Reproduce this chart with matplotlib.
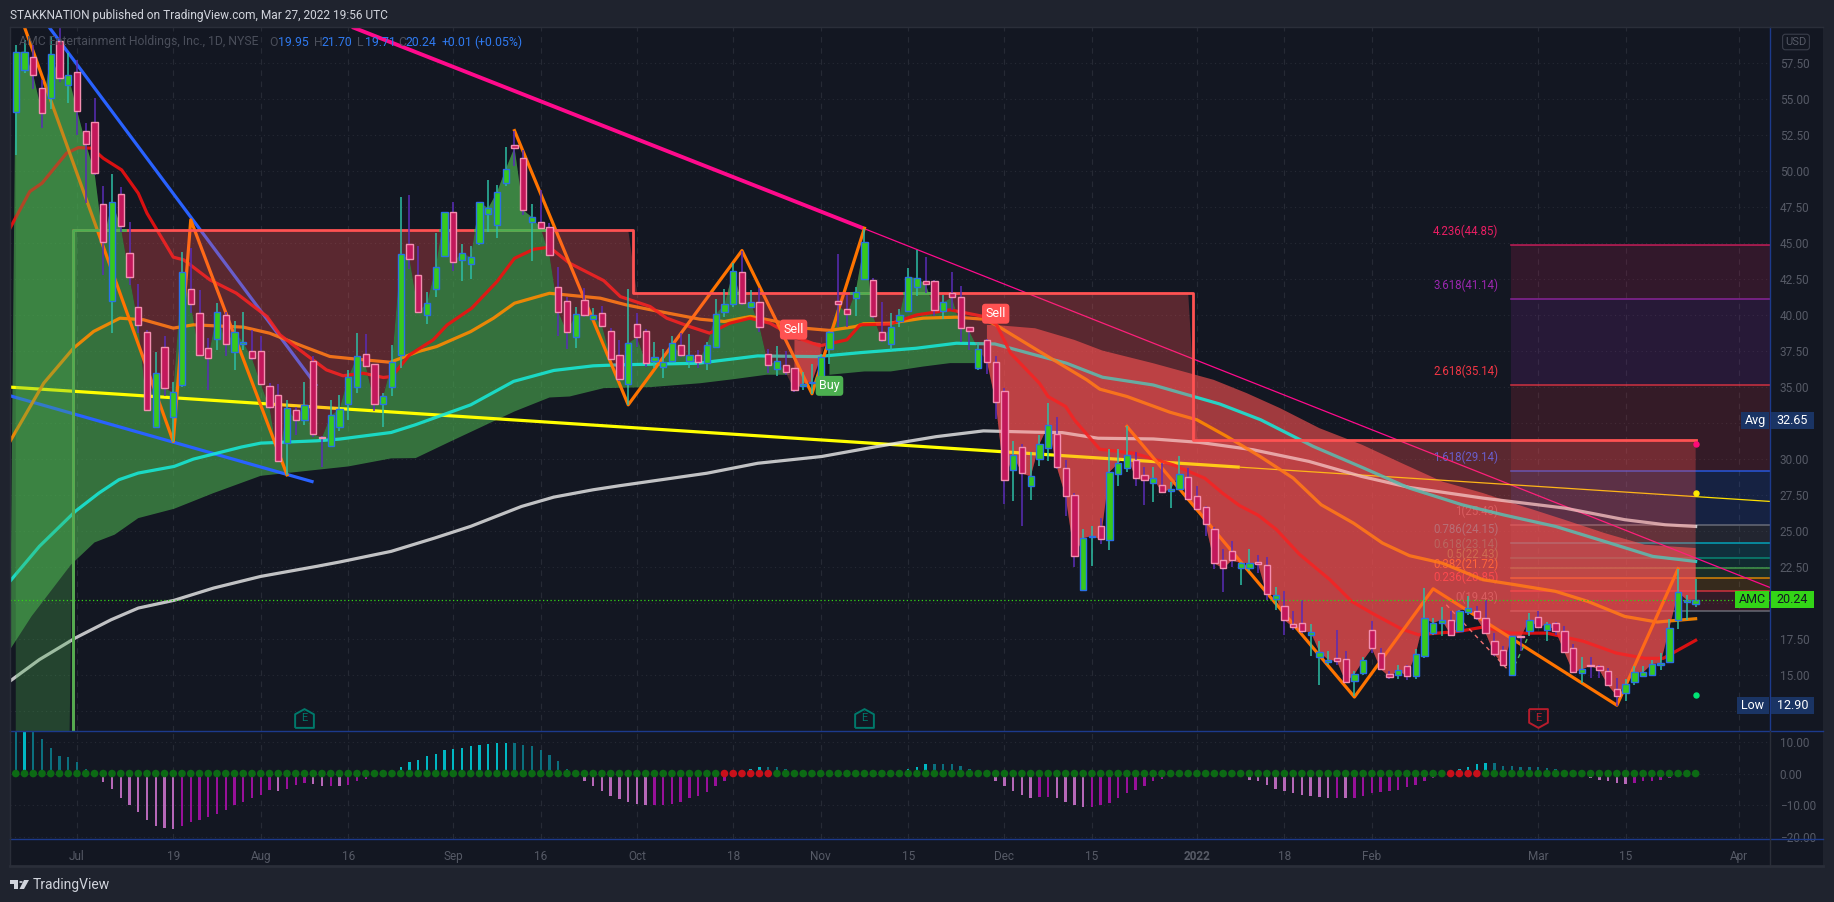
import numpy as np
import matplotlib
matplotlib.use('Agg')
import matplotlib.pyplot as plt
from matplotlib.lines import Line2D
from matplotlib.patches import Rectangle, Polygon, Circle

plt.rcParams['font.family'] = ['Roboto', 'DejaVu Sans']

# daily candles, first bar sits 7 sessions before Jul 1 2021
first_bar = -7
open_ = [54.12,57.04,57.96,55.76,55.07,59.03,55.97,56.87,
    52.78,53.45,47.71,40.97,48.40,44.30,40.55,38.82,32.22,37.82,32.91,35.16,41.80,40.14,37.75,38.33,40.00,37.43,37.98,37.54,37.54,35.11,34.42,31.11,33.38,32.71,36.85,31.57,30.90,32.22,33.82,35.04,
    37.29,36.59,33.86,35.00,37.22,44.92,42.77,39.99,41.80,44.14,47.15,43.86,43.54,44.99,47.01,46.27,49.16,51.80,50.90,46.45,46.45,46.11,41.94,40.97,38.47,41.04,39.76,40.13,38.88,37.22,35.20,39.37,38.88,36.85,36.38,36.80,37.91,36.85,
    37.22,36.67,37.78,40.21,40.79,42.98,40.60,40.90,37.29,36.25,36.53,36.32,35.09,35.30,35.65,37.64,40.97,40.42,41.18,42.50,42.43,38.82,37.99,39.61,40.32,41.97,42.36,42.36,40.32,41.53,41.25,39.17,36.32,38.26,36.73,
    34.75,29.21,30.81,28.10,30.00,30.76,31.74,29.38,27.50,20.90,24.56,25.35,24.35,28.94,29.35,29.95,28.89,28.33,28.19,27.78,27.89,28.75,27.43,26.67,25.14,22.99,23.61,22.41,22.41,22.85,22.64,20.30,
    19.77,18.54,18.61,17.75,16.25,15.88,16.18,16.11,14.58,15.11,18.12,16.53,15.07,15.00,15.60,14.93,16.32,17.91,18.61,18.82,18.05,19.37,19.44,18.93,17.36,16.71,15.00,17.68,18.05,19.03,18.15,18.61,18.03,16.87,15.14,15.72,15.60,15.25,14.02,13.75,14.51,14.95,15.00,15.69,15.90,18.84,20.04,19.95]
high = [58.77,59.12,58.77,56.34,59.40,60.05,58.19,57.73,
    53.33,55.07,48.98,49.79,48.93,46.50,42.15,38.98,37.43,38.52,35.39,44.40,44.65,41.76,38.40,40.83,40.25,39.56,40.25,38.98,38.52,35.28,35.21,34.12,33.61,35.34,37.13,31.60,34.12,34.47,36.20,38.75,
    38.70,36.59,34.58,37.93,48.19,48.35,44.81,41.59,45.69,47.20,47.84,44.95,44.81,47.89,49.39,49.05,51.66,52.82,51.48,47.73,48.70,46.38,43.33,41.29,40.60,41.92,40.53,40.67,39.09,38.28,41.82,40.13,39.02,38.14,37.63,38.56,38.74,38.70,
    37.59,38.17,41.11,41.80,43.61,44.49,41.76,41.87,37.64,37.87,37.48,36.32,36.04,36.62,37.31,38.87,44.26,41.41,41.99,45.97,42.57,40.90,40.14,40.44,43.26,44.54,44.07,42.45,41.41,43.03,42.04,39.21,38.17,38.33,37.13,
    34.93,31.27,31.07,30.49,31.69,33.89,32.92,29.95,27.64,25.16,25.32,25.90,30.72,30.72,32.27,30.49,29.44,29.42,29.72,28.38,30.23,29.38,28.15,26.71,25.28,23.77,24.31,22.82,23.77,23.36,23.17,21.11,
    20.81,19.42,20.18,18.54,17.34,16.64,18.15,16.64,15.25,16.25,18.72,16.87,15.25,15.72,15.72,16.83,21.04,18.95,19.70,19.42,19.54,20.46,19.77,20.23,17.91,16.99,17.73,17.68,19.30,19.42,18.65,18.68,18.38,17.17,16.25,16.25,15.72,15.48,14.79,14.72,15.60,15.65,16.02,16.53,18.89,22.38,20.58,21.70]
low = [51.13,56.85,55.69,53.03,54.33,56.23,54.72,52.52,
    47.78,49.74,42.80,38.79,45.81,42.10,38.75,33.38,32.15,34.35,31.22,35.04,40.14,37.17,34.77,37.59,37.13,36.16,37.59,36.90,35.16,33.47,29.84,28.91,31.64,32.38,31.57,29.42,30.83,31.92,32.73,34.58,
    36.43,33.35,32.26,34.41,36.36,43.21,40.13,39.39,41.29,44.07,43.07,42.38,42.52,44.88,45.80,45.39,48.98,50.37,46.96,43.77,45.99,44.11,38.56,37.66,37.70,39.90,39.67,39.25,36.94,35.46,33.77,37.77,36.38,36.31,35.66,36.66,37.12,36.36,
    36.32,36.16,37.71,39.84,40.55,40.72,40.49,38.86,35.97,35.79,35.86,34.63,34.81,34.54,35.55,36.62,39.17,39.17,39.91,42.45,39.79,38.17,37.55,39.17,40.25,41.30,41.53,39.91,39.72,40.37,38.17,37.59,36.16,35.92,32.80,
    26.90,27.06,25.32,27.18,29.54,29.84,29.33,26.02,22.48,20.81,22.55,24.12,23.70,28.15,29.07,28.10,26.83,27.04,27.64,26.62,27.87,27.13,26.43,24.68,22.38,20.79,22.48,21.27,22.20,22.08,20.23,19.53,
    17.80,18.15,17.91,16.29,14.28,15.72,15.72,14.44,13.52,15.02,16.53,15.37,14.74,14.72,14.67,14.72,16.18,17.80,17.73,17.73,18.01,19.19,18.84,17.87,16.29,15.60,14.95,16.64,17.73,18.26,17.34,17.80,16.53,15.14,14.44,14.79,14.79,14.21,12.87,13.17,14.33,14.90,14.97,15.32,15.83,18.22,18.84,19.71]
close = [58.26,58.31,56.67,54.03,58.12,56.46,56.67,54.21,
    51.92,49.91,45.07,47.89,46.16,42.64,39.35,33.40,35.97,34.93,34.63,43.03,40.76,37.22,37.01,40.25,37.98,38.86,38.12,36.99,35.21,33.61,29.86,33.54,32.71,33.79,31.73,31.50,33.03,33.47,35.67,37.13,
    36.50,33.81,34.37,36.73,44.23,43.93,40.25,40.83,43.33,47.15,43.67,44.35,44.02,47.84,47.43,48.54,50.13,51.64,47.29,46.80,46.04,44.16,40.25,38.81,40.06,39.99,39.99,39.28,36.98,35.55,38.05,38.47,36.71,37.08,36.78,38.10,37.22,37.22,
    36.78,37.92,40.07,40.76,43.05,40.83,40.90,39.21,36.57,36.80,36.02,34.79,35.23,35.37,37.08,38.82,40.76,40.05,41.64,45.05,39.91,38.26,39.21,39.98,42.68,42.55,42.15,40.39,40.88,41.25,39.14,38.87,37.64,36.78,33.96,
    28.52,30.28,29.00,28.80,31.04,32.34,29.42,27.41,23.24,24.51,24.65,24.42,29.10,29.72,30.26,28.66,28.52,28.68,27.69,27.92,28.94,27.20,26.50,25.46,22.75,22.41,22.96,22.78,22.78,22.68,20.60,20.53,
    18.82,18.31,18.03,17.98,16.62,16.06,15.97,14.51,15.04,16.02,16.85,15.42,14.86,15.32,14.91,16.46,18.95,18.61,18.84,17.78,19.47,19.65,18.93,17.91,16.46,15.69,17.71,17.61,18.84,18.33,18.52,18.05,16.60,15.18,15.39,15.65,15.35,14.28,13.54,14.40,15.18,15.18,15.76,15.83,18.26,20.76,20.21,20.24]

# squeeze momentum histogram, one value per bar
momentum = [15.0,16.0,15.0,11.1,8.2,5.7,5.1,3.6,
    1.6,0.2,-2.7,-4.8,-7.6,-10.1,-12.2,-14.8,-16.5,-17.4,-17.7,-16.7,-15.4,-14.8,-13.8,-12.9,-11.6,-10.1,-8.9,-7.6,-6.7,-5.1,-5.6,-4.8,-3.7,-3.0,-3.2,-3.8,-3.8,-4.1,-3.7,-2.5,
    -1.6,-0.5,-0.3,0.2,2.1,3.7,4.4,5.7,6.3,7.6,7.9,8.2,8.6,9.2,9.5,9.6,9.8,9.8,9.2,8.6,7.6,6.0,3.9,1.3,-0.2,-2.2,-3.8,-5.4,-7.0,-8.2,-8.9,-9.6,-10.1,-10.1,-10.1,-9.5,-8.9,-7.9,
    -7.0,-5.7,-3.8,-2.2,-0.6,0.2,1.6,2.2,2.2,2.2,1.6,0.3,-0.1,0.2,-0.2,-0.2,0.1,-0.1,0.3,0.6,0.4,-0.1,-0.3,-0.2,1.3,2.2,2.9,2.9,2.9,2.9,2.5,1.3,0.4,0.1,-2.2,
    -4.1,-5.4,-6.7,-7.6,-7.3,-7.3,-7.9,-8.9,-10.1,-10.5,-10.5,-10.1,-9.2,-7.9,-6.3,-5.1,-3.8,-2.5,-1.7,-0.3,0.1,0.3,0.6,0.1,0.0,-0.2,-0.2,-0.3,-1.9,-2.5,-3.5,-4.8,
    -5.4,-6.3,-6.7,-7.0,-7.3,-7.6,-7.6,-7.9,-7.6,-7.0,-6.3,-5.7,-5.4,-5.1,-4.4,-3.5,-2.5,-1.5,-0.3,0.1,1.6,2.2,2.9,3.2,3.2,2.5,2.5,2.2,2.2,2.2,1.9,1.6,0.3,0.2,-0.2,-1.4,-1.9,-2.5,-3.0,-3.2,-3.0,-2.5,-2.2,-1.9,-1.5,0.2,0.5,0.8]
squeeze_bars = [74,75,76,77,78,79,157,158,159,160]

ma21_x = [-7.66,-5.4,-4,-1.2,0.15,1.7,3,5.1,7,8,11,12.2,15.2,18.2,21.7,23.2,26.2,28.5,30.4,32.7,35,36,38,40.7,42.3,45.1,48,50,52.2,54,56.3,60.2,62.1,65.5,67.4,70,72.3,74.6,76.9,79.2,81.9,84.9,88,89.5,92.9,96,99.8,103.6,105.1,106.7,110,111,113,114,116.9,120.8,125.3,128.9,131,132.9,135,137.1,139.7,143.2,145.7,148,151.4,153.3,157.9,160.7,163.9,168,172.2,175.9,179.2,181.3,185]
ma21_y = [46.04,48.59,49.17,51.25,51.64,51.6,50.9,50.09,48.47,47.08,44.03,43.84,42.45,41.53,39.91,38.63,37.24,36.2,35.79,35.97,35.67,35.74,37.24,38.28,39.32,40.48,42.33,43.95,44.58,44.72,43.61,42.4,41.29,40.6,39.79,39.21,38.75,39.44,39.79,39.44,38.52,37.87,38.29,39.33,39.38,40.02,40.37,39.91,39.33,37.36,35.27,34.34,33.65,32.72,30.68,30.41,29.6,28.67,27.6,26.76,26.1,25.1,23.4,21.62,20.11,19.3,18.19,17.8,18.03,18.33,17.91,17.91,17.34,16.53,16.16,16.16,17.41]
ma50_x = [-7.66,-3.8,-0.4,1.9,4.9,7.6,11,13.3,19,22,25.9,28.9,32,35.8,39,41.1,45,47.6,50,54,59.8,62.8,66.6,71.2,74,77,80,83,86,89,89.9,92.9,96.7,100.5,103.6,105,110,115.4,116.9,120,124.9,128,131.4,135.2,139,142.2,145.9,149.2,152.3,156,160.7,164.4,169,172.7,176.9,180.6,185]
ma50_y = [31.23,35.28,37.71,38.87,39.79,39.68,39.1,39.33,39.17,38.75,37.82,37.13,36.94,36.73,37.47,37.82,38.86,39.79,40.83,41.52,41.18,40.71,40.25,39.72,39.56,39.91,39.56,39.1,38.94,39.21,39.4,39.44,39.79,39.86,39.72,39.33,37.48,35.51,34.86,34.35,33.26,32.73,31.58,30.19,28.68,26.83,25.55,24.17,23.29,22.78,21.62,21.27,20.81,20.11,19.07,18.68,18.91]
ma100_x = [-7.67,-4.3,-0.2,2.5,4.8,7,11.1,13.3,18.8,21,27.4,30,35.9,38.7,45,49.9,54.5,59,62,71,77.8,84.6,89.6,95.9,100.5,104.9,109.5,113.1,117.2,123,130.6,135.3,141.3,146.9,152.3,158.3,163,169,174.6,180.1,185]
ma100_y = [21.51,23.94,26.37,27.64,28.57,29.03,29.49,30,30.84,31.11,31.27,31.39,31.85,32.39,33.77,35.4,36.16,36.48,36.55,36.66,37.17,37.12,37.4,37.7,38.05,38,37.24,36.66,35.69,35.15,33.83,32.73,30.88,29.42,27.98,26.83,26.13,25.32,24.28,23.24,22.89]
ma200_x = [-7.7,-4.3,-0.2,3.9,7,11.1,15.6,21,27.4,30,35.9,40.9,45,50.8,54.5,59,62,72,77.8,85.1,91.4,98.2,103.6,109.5,112.6,116.7,123,128.3,134.4,140.8,146.8,152.3,160.7,170,176.9,181.5,185]
ma200_y = [14.56,16.07,17.57,18.84,19.65,20.19,21.04,21.85,22.55,22.85,23.59,24.52,25.33,26.71,27.36,27.87,28.15,29.02,29.71,30.18,30.87,31.56,31.96,31.87,31.84,31.45,31.4,31.16,30.65,29.84,28.8,28.03,27.29,26.6,25.79,25.44,25.32]

# edges of the cloud against price, lower edge while green and upper while red
green1_x = [-7.66,-5.2,-0.7,2,4.3,7,11.1,15.6,21,26.4,31,35.9,38.7,42.7,50,54,56.3,60.2,65.5,71.2,75,78.8,81.5]
green1_y = [16.76,19.08,22.66,24.21,24.75,25.9,26.55,27.64,28.84,29.19,29.49,30.05,30.07,31.23,33.31,34.28,34.35,34.93,35.0,35.27,35.55,35.86,35.86]
red1_x = [82,85]
red1_y = [38.29,38.06]
green2_x = [86,90,93,96.7,99.8,103]
green2_y = [35.86,36.09,36.09,36.43,36.67,36.67]
red2_x = [104,104.9,109.5,114,117.2,123,129.9,133.7,137.5,142,146.9,151.4,156,160.7,165.3,170,174.6,179.2,185]
red2_y = [39.32,39.32,39.09,38.28,37.54,36.66,35.51,34.58,33.54,32.15,30.99,29.72,28.45,27.64,26.71,25.79,24.86,24.05,23.82]

# trailing stop, first level is below the visible range
stop_starts = [-7,0,64,128]
stop_levels = [5.0,45.92,41.57,31.34]

# drawn lines
blue_down_x = [-3.2,27.3]
blue_down_y = [60.02,35.16]
blue_support_x = [-7.66,26.86]
blue_support_y = [34.4,28.44]
pink_x = [31.43,89.86,193.5]
pink_y = [60.02,46.04,21.08]
yellow_x = [-7.66,132.9,193.5]
yellow_y = [35.0,29.44,27.06]
zig1_x = [-6,11,13,24]
zig1_y = [60.0,31.22,46.62,28.91]
zig2_x = [50,63,76,84,90]
zig2_y = [52.82,33.77,44.49,34.54,46.04]
zig3_x = [120,146,155,176,183]
zig3_y = [32.27,13.47,20.99,12.9,22.38]
dash_red_x = [156.5,163.9]
dash_red_y = [19.88,15.14]
dash_green_x = [163.9,165.8]
dash_green_y = [15.14,17.57]

# fibonacci extension
fib_start = 163.9
fib_ratio = ['0','0.236','0.382','0.5','0.618','0.786','1','1.618','2.618','3.618','4.236']
fib_price = [19.43,20.85,21.72,22.43,23.14,24.15,25.43,29.14,35.14,41.14,44.85]
fib_color = ['#787b86','#f23645','#ff9800','#4caf50','#089981','#00bcd4','#787b86','#2962ff','#f23645','#9c27b0','#e91e63']

tick_bars = [0,11,21,31,43,53,64,75,85,95,106,116,128,138,148,167,177,190]
tick_text = ['Jul','19','Aug','16','Sep','16','Oct','18','Nov','15','Dec','15','2022','18','Feb','Mar','15','Apr']
price_ticks = [12.5,15,17.5,20,22.5,25,27.5,30,32.5,35,37.5,40,42.5,45,47.5,50,52.5,55,57.5]
hidden_ticks = [12.5,20,32.5]  # covered by the Low, AMC and Avg tags
osc_ticks = [10,0,-10,-20]

W, H = 1834, 902
BG = '#131722'
OUTER = '#1f232e'
GRID = '#262a35'
AXTEXT = '#565a66'
SEP = '#1c3a8c'
GREEN_F = '#4caf50'
RED_F = '#ff5252'


def fx(x):
    return x / W


def fy(y):
    return 1 - y / H


fig = plt.figure(figsize=(W / 100, H / 100), dpi=100, facecolor=OUTER)
fig.add_artist(Rectangle((fx(10), fy(866)), (1823 - 10) / W, (866 - 27) / H, transform=fig.transFigure, facecolor=BG, edgecolor='none', zorder=-1))
ax = fig.add_axes([fx(10), fy(731), 1760 / W, 704 / H], facecolor=BG)
osc = fig.add_axes([fx(10), fy(839), 1760 / W, 108 / H], facecolor=BG)

bars = np.arange(first_bar, first_bar + len(close))
open_ = np.array(open_)
high = np.array(high)
low = np.array(low)
close = np.array(close)
momentum = np.array(momentum)
xlim = (-7.66, 193.5)

ax.set_xlim(xlim)
ax.set_ylim(11.11, 60.02)
osc.set_xlim(xlim)
osc.set_ylim(-20.73, 13.48)

for a in (ax, osc):
    a.set_axisbelow(True)
    a.grid(True, axis='y', color=GRID, linestyle=(0, (1, 3)), linewidth=0.8)
    a.grid(True, axis='x', color=GRID, linestyle=(0, (5, 5)), linewidth=0.8)
    a.yaxis.tick_right()
    a.tick_params(axis='y', length=0, pad=7, labelcolor=AXTEXT, labelsize=8.5)
    a.tick_params(axis='x', length=0, labelcolor=AXTEXT, labelsize=8.5)
    a.set_xticks(tick_bars)
    for s in a.spines.values():
        s.set_visible(False)

ax.set_yticks(price_ticks)
ax.set_yticklabels(['' if v in hidden_ticks else '%.2f' % v for v in price_ticks])
ax.set_xticklabels([])
osc.set_yticks(osc_ticks)
osc.set_yticklabels(['%.2f' % v if v >= 0 else '\u2212%.2f' % -v for v in osc_ticks])
osc.set_xticklabels(tick_text)
osc.tick_params(axis='x', pad=8)
for lab, txt in zip(osc.get_xticklabels(), tick_text):
    if txt == '2022':
        lab.set_fontweight('bold')

# fib zones sit at the very back
for i, (ratio, p, c) in enumerate(zip(fib_ratio, fib_price, fib_color)):
    ax.plot([fib_start, xlim[1]], [p, p], color=c, lw=1.2, alpha=0.75, zorder=1.2)
    if i > 0:
        ax.fill_between([fib_start, xlim[1]], fib_price[i - 1], p, color=c, alpha=0.15, lw=0, zorder=1)
    ax.annotate('%s(%.2f)' % (ratio, p), (fib_start, p), xytext=(-9, 10), textcoords='offset points',
                ha='right', va='center', color=c, fontsize=8.3, zorder=1.3)

# price cloud goes under the lines, the trailing stop fill over them
cloud = [(-7, 81, green1_x, green1_y, GREEN_F), (82, 85, red1_x, red1_y, RED_F),
         (86, 103, green2_x, green2_y, GREEN_F), (104, 185, red2_x, red2_y, RED_F)]
for b0, b1, ex, ey, c in cloud:
    m = (bars >= b0) & (bars <= b1)
    ax.fill(np.r_[bars[m], ex[::-1]], np.r_[close[m], ey[::-1]], color=c, alpha=0.6, lw=0, zorder=1.8)

ax.plot(blue_down_x, blue_down_y, color='#2962ff', lw=2.3, zorder=2)
ax.plot(blue_support_x, blue_support_y, color='#2962ff', lw=2.3, zorder=2)
ax.plot(pink_x[:2], pink_y[:2], color='#ff0a8c', lw=2.8, zorder=2, solid_capstyle='butt')
ax.plot(pink_x[1:], pink_y[1:], color='#ff0a8c', lw=0.9, zorder=2)
ax.plot(yellow_x[:2], yellow_y[:2], color='#ffff00', lw=2.3, zorder=2, solid_capstyle='butt')
ax.plot(yellow_x[1:], yellow_y[1:], color='#ffe000', lw=0.9, zorder=2)
ax.plot(ma200_x, ma200_y, color='#eeeeee', lw=2.3, alpha=0.8, zorder=2.1)
ax.plot(ma100_x, ma100_y, color='#18e8d8', lw=2.3, alpha=0.88, zorder=2.1)
ax.plot(ma50_x, ma50_y, color='#ff8a00', lw=2.3, alpha=0.9, zorder=2.1)
ax.plot(ma21_x, ma21_y, color='#f01010', lw=2.3, alpha=0.9, zorder=2.1)
for zx, zy in ((zig1_x, zig1_y), (zig2_x, zig2_y), (zig3_x, zig3_y)):
    ax.plot(zx, zy, color='#ff7400', lw=2.3, zorder=2.2)
ax.plot(dash_red_x, dash_red_y, color='#f07070', lw=1, ls=(0, (3, 3)), zorder=2.2)
ax.plot(dash_green_x, dash_green_y, color='#50c060', lw=1, ls=(0, (3, 3)), zorder=2.2)

stop = np.array(stop_levels)[np.searchsorted(stop_starts, bars, side='right') - 1]
ax.fill_between(bars, close, stop, where=close >= stop, interpolate=True, color=GREEN_F, alpha=0.3, lw=0, zorder=3)
ax.fill_between(bars, close, stop, where=close < stop, interpolate=True, color=RED_F, alpha=0.3, lw=0, zorder=3)

ax.step(bars, stop, where='mid', color=RED_F, lw=2, zorder=3.4)
above = (close >= stop) | (bars <= 5)
ax.step(bars, np.where(above, stop, np.nan), where='mid', color=GREEN_F, lw=2, zorder=3.5)

# candles
up = close >= open_
ax.vlines(bars[up], low[up], high[up], color='#2dbfa5', lw=1.1, zorder=4)
ax.vlines(bars[~up], low[~up], high[~up], color='#5a2cb8', lw=1.1, zorder=4)
ax.bar(bars[up], (close - open_)[up], bottom=open_[up], width=0.72, color='#36c81e', edgecolor='#2a70e8', lw=1, zorder=4.2)
ax.bar(bars[~up], (close - open_)[~up], bottom=open_[~up], width=0.72, color='#c2185b', edgecolor='#f48fb1', lw=1, zorder=4.2)

ax.axhline(close[-1], color='#33d417', lw=0.9, ls=(0, (1, 2)), zorder=4.5)

ax.plot(bars[-1], 31.04, 'o', color='#ff0a78', ms=3.6, zorder=5)
ax.plot(bars[-1], 27.64, 'o', color='#ffeb00', ms=3.6, zorder=5)
ax.plot(bars[-1], 13.61, 'o', color='#00e676', ms=3.6, zorder=5)

# signal labels
for txt, bx, by, c in (('Sell', 81.9, 39.0, RED_F), ('Sell', 105, 40.1, RED_F), ('Buy', 86, 35.09, GREEN_F)):
    ax.text(bx, by, txt, color='white', ha='center', va='center', fontsize=9, zorder=6,
            bbox=dict(boxstyle='round,pad=0.28', facecolor=c, edgecolor='none'))

# earnings flags
house = [(-1, -1), (1, -1), (1, 0.45), (0, 1), (-1, 0.45), (-1, -1)]
shield = [(-1, 1), (1, 1), (1, -0.45), (0, -1), (-1, -0.45), (-1, 1)]
for bx, verts, c in ((26, house, '#00796b'), (90, house, '#00796b'), (167, shield, '#b71c2c')):
    ax.plot(bx, 12.0, marker=verts, ms=13.5, mfc='none', mec=c, mew=1.4, zorder=6, clip_on=False)
    ax.text(bx, 12.0, 'E', color=c, ha='center', va='center', fontsize=8, zorder=6)

# momentum pane
prev = np.r_[momentum[0], momentum[:-1]]
mom_colors = np.where(momentum > 0, np.where(momentum > prev, '#00b7c3', '#0b6f7e'),
                      np.where(momentum < prev, '#b667b8', '#98109a'))
osc.bar(bars, momentum, width=0.28, color=mom_colors, zorder=2)
dot_colors = ['#c8101a' if b in squeeze_bars else '#0c6a14' for b in bars]
osc.scatter(bars, np.zeros(len(bars)), s=30, c=dot_colors, lw=0, zorder=3)

# frame lines
for y in (731, 839):
    fig.add_artist(Line2D([fx(10), fx(1823)], [fy(y), fy(y)], color=SEP, lw=1))
fig.add_artist(Line2D([fx(1770), fx(1770)], [fy(27), fy(731)], color=SEP, lw=1))
fig.add_artist(Line2D([fx(1770), fx(1770)], [fy(731), fy(866)], color='#2a2e39', lw=1))
fig.add_artist(Line2D([fx(10), fx(10)], [fy(27), fy(866)], color='#2a2e39', lw=1))
fig.add_artist(Line2D([fx(10), fx(1823)], [fy(27), fy(27)], color='#2a2e39', lw=1))
fig.add_artist(Line2D([fx(10), fx(1823)], [fy(866), fy(866)], color='#2a2e39', lw=2))


def tag(label, value, y, color, text_color, x0):
    # two joined boxes straddling the right price axis
    yt = fy(y)
    h = 17 / H
    fig.add_artist(Rectangle((fx(x0), yt - h / 2), (1769 - x0) / W, h, transform=fig.transFigure, facecolor=color, edgecolor='none', zorder=8))
    fig.add_artist(Rectangle((fx(1771), yt - h / 2), 43 / W, h, transform=fig.transFigure, facecolor=color, edgecolor='none', zorder=8))
    fig.text(fx((x0 + 1769) / 2), yt, label, color=text_color, ha='center', va='center', fontsize=9, zorder=9)
    fig.text(fx(1792.5), yt, value, color=text_color, ha='center', va='center', fontsize=9, zorder=9)


def price_to_px(p):
    return 731 - (p - 11.11) * 14.4


tag('Avg', '32.65', price_to_px(32.65), '#1a3464', 'white', 1741)
tag('AMC', '%.2f' % close[-1], price_to_px(close[-1]), '#33d417', '#131722', 1735)
tag('Low', '12.90', price_to_px(12.90), '#1a3464', 'white', 1737)

# header, legend and footer
fig.text(fx(10), fy(15), 'STAKKNATION published on TradingView.com, Mar 27, 2022 19:56 UTC',
         color='#d1d4dc', fontsize=8.55, va='center')
legend_grey = '#4a4e5a'
legend_blue = '#2f7af0'
legend_y = fy(42)
for lx, txt, c in ((18.6, 'AMC Entertainment Holdings, Inc., 1D, NYSE', legend_grey), (269, 'O', legend_grey), (278, '19.95', legend_blue),
                   (313.6, 'H', legend_grey), (321, '21.70', legend_blue), (357, 'L', legend_grey), (364.6, '19.71', legend_blue),
                   (398.6, 'C', legend_grey), (406, '20.24', legend_blue), (441.7, '+0.01', legend_blue), (474, '(+0.05%)', legend_blue)):
    fig.text(fx(lx), legend_y, txt, color=c, fontsize=8.8, va='center', zorder=7)

fig.text(fx(1796), fy(42), 'USD', color=AXTEXT, fontsize=8, ha='center', va='center', zorder=7,
         bbox=dict(boxstyle='round,pad=0.25', facecolor='none', edgecolor='#3a3e4a', lw=0.8))

fig.add_artist(Polygon([(fx(10), fy(880)), (fx(18), fy(880)), (fx(18), fy(889)), (fx(14), fy(889)), (fx(14), fy(884)), (fx(10), fy(884))],
                       transform=fig.transFigure, facecolor='#d1d4dc', edgecolor='none'))
fig.add_artist(Polygon([(fx(24), fy(880)), (fx(29), fy(880)), (fx(24), fy(889)), (fx(19.5), fy(889))],
                       transform=fig.transFigure, facecolor='#d1d4dc', edgecolor='none'))
fig.add_artist(Circle((fx(21), fy(882)), 1.8 / W, transform=fig.transFigure, facecolor='#d1d4dc', edgecolor='none'))
fig.text(fx(33), fy(885), 'TradingView', color='#d1d4dc', fontsize=10, va='center')

plt.savefig('out.png', dpi=100, facecolor=OUTER)
